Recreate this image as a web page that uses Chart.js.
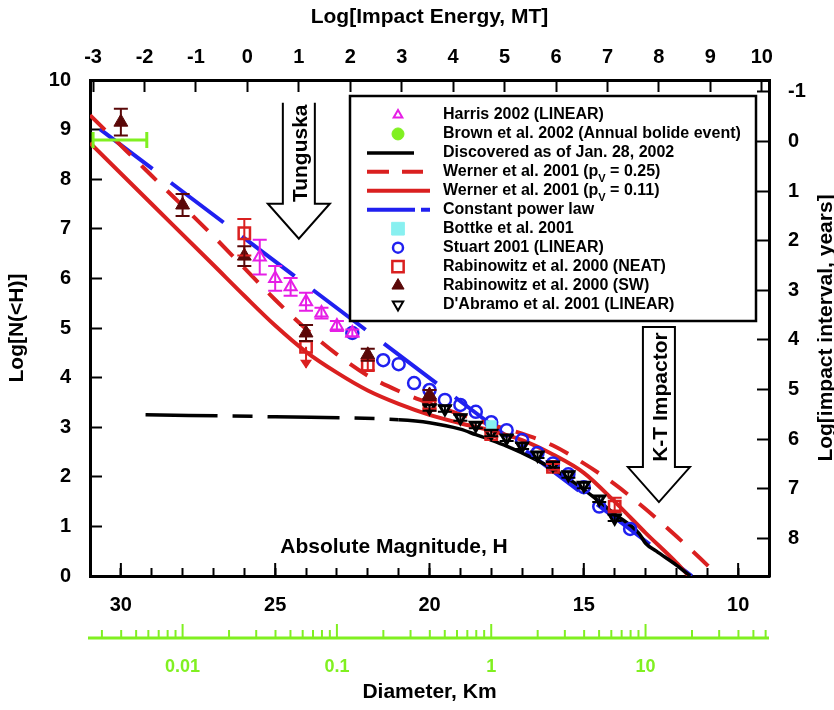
<!DOCTYPE html>
<html>
<head>
<meta charset="utf-8">
<script src="https://cdn.jsdelivr.net/npm/chart.js@4.4.1/dist/chart.umd.min.js"></script>
<style>
  html, body { margin: 0; padding: 0; background: #fff; }
  #wrap { width: 834px; height: 710px; position: relative; }
</style>
</head>
<body>
<div id="wrap"><canvas id="c"></canvas></div>
<script>
// x = absolute magnitude H, y = Log N(<H)
const harrisH = [25.5, 25, 24.5, 24, 23.5, 23, 22.5];
const harrisN = [6.43, 6.0, 5.83, 5.53, 5.3, 5.04, 4.9];
const harrisErr = [0.35, 0.25, 0.18, 0.18, 0.11, 0.1, 0.07];

const brownH = [30.03];
const brownN = [8.79];
const brownErrH = [0.87];

const discH = [29.2, 25, 21, 20, 19, 18.5, 18, 17.5, 17, 16, 15, 14, 13.2, 13.0, 12.65, 12, 11.55];
const discN = [3.25, 3.21, 3.15, 3.09, 2.96, 2.85, 2.74, 2.62, 2.48, 2.16, 1.74, 1.25, 0.85, 0.66, 0.5, 0.22, 0];

const werner25H = [31, 29, 27, 25, 24, 23, 22, 21, 20, 19, 18, 17, 16, 15, 14, 13, 12, 11, 10.65];
const werner25N = [9.29, 8.07, 6.85, 5.57, 4.98, 4.47, 4.04, 3.73, 3.48, 3.26, 3.05, 2.87, 2.63, 2.27, 1.85, 1.35, 0.8, 0.22, 0];

const werner11H = [31, 29, 27, 26, 25, 24, 23, 22, 21, 20, 19, 18, 17, 16, 15, 14, 13, 12, 11.6];
const werner11N = [8.73, 7.5, 6.27, 5.65, 5.05, 4.52, 4.1, 3.74, 3.47, 3.25, 3.08, 2.93, 2.74, 2.45, 2.08, 1.5, 0.87, 0.27, 0];

const powerH = [30.68, 11.5];
const powerN = [9.01, 0];

const bottkeH = [18.0];
const bottkeN = [3.03];

const stuartH = [22.5, 21.5, 21, 20.5, 20, 19.5, 19, 18.5, 18, 17.5, 17, 16.5, 16, 15.5, 15, 14.5, 13.5];
const stuartN = [4.9, 4.35, 4.27, 3.89, 3.75, 3.55, 3.45, 3.31, 3.1, 2.94, 2.74, 2.48, 2.27, 2.05, 1.79, 1.4, 0.95];

const neatH = [26, 24, 22, 20, 18, 16, 14];
const neatN = [6.91, 4.62, 4.25, 3.45, 2.86, 2.2, 1.4];
const neatErrUp = [0.29, 0, 0.1, 0.08, 0.06, 0.06, 0.18];
const neatErrDown = [0.45, 0.42, 0.1, 0.08, 0.06, 0.06, 0.08];
const neatUpperLimit = [false, true, false, false, false, false, false];

const swH = [30, 28, 26, 24, 22, 20];
const swN = [9.15, 7.48, 6.45, 4.9, 4.46, 3.65];
const swErr = [0.27, 0.22, 0.2, 0.16, 0.12, 0.1];

const dabH = [20, 19.5, 19, 18.5, 18, 17.5, 17, 16.5, 16, 15.5, 15, 14.5, 14];
const dabN = [3.39, 3.37, 3.19, 3.04, 2.88, 2.78, 2.62, 2.44, 2.24, 2.04, 1.83, 1.55, 1.17];
const dabErr = [0.06, 0.06, 0.06, 0.06, 0.06, 0.06, 0.06, 0.06, 0.06, 0.06, 0.06, 0.06, 0.06];

// axis ranges and tick labels
const hMin = 9, hMax = 31;
const nMin = 0, nMax = 10;
const energyMin = -3.06, energyMax = 10.14;   // log MT, = 15.54 - 0.6 H
const energyTicks = [-3, -2, -1, 0, 1, 2, 3, 4, 5, 6, 7, 8, 9, 10];
const intervalMin = -1.24, intervalMax = 8.76; // log years, = 8.76 - log N
const intervalTicks = [-1, 0, 1, 2, 3, 4, 5, 6, 7, 8];
const diamMin = Math.pow(10, -2.6), diamMax = Math.pow(10, 1.8); // km
const diamLabels = [0.01, 0.1, 1, 10];

const MAGENTA = '#e61ee6', GREEN = '#80f020', RED = '#da2020', BLUE = '#2020f0',
      DARK = '#5a0808', CYAN = '#88f0f0', CLEAR = 'rgba(0,0,0,0)';
const FONT = "'Liberation Sans', Arial, Helvetica, sans-serif";

Chart.defaults.font.family = FONT;
Chart.defaults.font.weight = 'bold';
Chart.defaults.color = '#000';

const pts = (hs, ns) => hs.map((h, i) => ({x: h, y: ns[i]}));

const datasets = [
  { label: 'Harris 2002 (LINEAR)', data: pts(harrisH, harrisN), order: 1,
    pointStyle: 'triangle', pointRadius: 7, borderWidth: 2, borderColor: MAGENTA, backgroundColor: CLEAR,
    errUp: harrisErr, errDown: harrisErr, legendRadius: 5 },
  { label: 'Brown et al. 2002 (Annual bolide event)', data: pts(brownH, brownN), order: 1,
    pointStyle: 'circle', pointRadius: 0, borderWidth: 0, borderColor: GREEN, backgroundColor: GREEN,
    errH: brownErrH, legendRadius: 6 },
  { label: 'Discovered as of Jan. 28, 2002', data: pts(discH, discN), order: 3, showLine: true,
    pointRadius: 0, borderWidth: 3.5, borderColor: '#000', backgroundColor: '#000',
    cubicInterpolationMode: 'monotone',
    segment: { borderDash: c => c.p0.parsed.x > 21 ? [72, 15, 20, 15] : undefined },
    legendLen: 47 },
  { label: 'Werner et al. 2001 (pV = 0.25)', data: pts(werner25H, werner25N), order: 3, showLine: true,
    pointRadius: 0, borderWidth: 4, borderColor: RED, borderDash: [21, 15],
    cubicInterpolationMode: 'monotone', legendLen: 56, legendDash: [22, 13] },
  { label: 'Werner et al. 2001 (pV = 0.11)', data: pts(werner11H, werner11N), order: 3, showLine: true,
    pointRadius: 0, borderWidth: 4, borderColor: RED,
    cubicInterpolationMode: 'monotone', legendLen: 63 },
  { label: 'Constant power law', data: pts(powerH, powerN), order: 3, showLine: true,
    pointRadius: 0, borderWidth: 4, borderColor: BLUE, borderDash: [66, 23],
    legendLen: 63, legendDash: [48, 6, 10, 50] },
  { label: 'Bottke et al. 2001', data: pts(bottkeH, bottkeN), order: 1,
    pointStyle: 'rect', pointRadius: 7, borderWidth: 1, borderColor: CYAN, backgroundColor: CYAN,
    legendRadius: 9 },
  { label: 'Stuart 2001 (LINEAR)', data: pts(stuartH, stuartN), order: 1,
    pointStyle: 'circle', pointRadius: 6, borderWidth: 2.5, borderColor: BLUE, backgroundColor: CLEAR,
    legendRadius: 5 },
  { label: 'Rabinowitz et al. 2000 (NEAT)', data: pts(neatH, neatN), order: 1,
    pointStyle: 'rect', pointRadius: 8, borderWidth: 2.5, borderColor: RED, backgroundColor: CLEAR,
    errUp: neatErrUp, errDown: neatErrDown, limit: neatUpperLimit, legendRadius: 8 },
  { label: 'Rabinowitz et al. 2000 (SW)', data: pts(swH, swN), order: 0,
    pointStyle: 'triangle', pointRadius: 8, borderWidth: 1, borderColor: DARK, backgroundColor: DARK,
    errUp: swErr, errDown: swErr, legendRadius: 7 },
  { label: "D'Abramo et al. 2001 (LINEAR)", data: pts(dabH, dabN), order: 0,
    pointStyle: 'triangle', rotation: 180, pointRadius: 6, borderWidth: 3, borderColor: '#000', backgroundColor: CLEAR,
    errUp: dabErr, errDown: dabErr, legendRadius: 6, legendBorder: 2 }
];

// vertical / horizontal error bars and the upper-limit arrow
const errorBars = {
  id: 'errorBars',
  afterDatasetsDraw(chart) {
    const {ctx, scales: {x, y}} = chart;
    chart.data.datasets.forEach(ds => {
      if (!ds.errUp && !ds.errH) return;
      ctx.save();
      ctx.strokeStyle = ds.borderColor;
      ctx.fillStyle = ds.borderColor;
      ctx.lineWidth = 2;
      ds.data.forEach((p, i) => {
        const px = x.getPixelForValue(p.x), py = y.getPixelForValue(p.y);
        if (ds.errUp) {
          const top = y.getPixelForValue(p.y + ds.errUp[i]);
          const bot = y.getPixelForValue(p.y - ds.errDown[i]);
          ctx.beginPath();
          ctx.moveTo(px, top); ctx.lineTo(px, bot);
          if (ds.errUp[i] > 0) { ctx.moveTo(px - 7, top); ctx.lineTo(px + 7, top); }
          if (!(ds.limit && ds.limit[i])) { ctx.moveTo(px - 7, bot); ctx.lineTo(px + 7, bot); }
          ctx.stroke();
          if (ds.limit && ds.limit[i]) {
            ctx.beginPath();
            ctx.moveTo(px - 6, bot - 8); ctx.lineTo(px + 6, bot - 8); ctx.lineTo(px, bot + 1);
            ctx.closePath(); ctx.fill();
          }
        }
        if (ds.errH) {
          const l = x.getPixelForValue(p.x + ds.errH[i]);
          const r = x.getPixelForValue(p.x - ds.errH[i]);
          ctx.lineWidth = 3;
          ctx.beginPath();
          ctx.moveTo(l, py); ctx.lineTo(r, py);
          ctx.moveTo(l, py - 8); ctx.lineTo(l, py + 8);
          ctx.moveTo(r, py - 8); ctx.lineTo(r, py + 8);
          ctx.stroke();
        }
      });
      ctx.restore();
    });
  }
};

function drawArrow(ctx, tx, yTop, yTip, label, closeTop) {
  const sw = 16, hw = 31, hl = 35, hb = yTip - hl;
  ctx.beginPath();
  ctx.moveTo(tx - sw, yTop); ctx.lineTo(tx - sw, hb); ctx.lineTo(tx - hw, hb);
  ctx.lineTo(tx, yTip); ctx.lineTo(tx + hw, hb); ctx.lineTo(tx + sw, hb); ctx.lineTo(tx + sw, yTop);
  if (closeTop) ctx.closePath();
  ctx.fillStyle = '#fff'; ctx.fill();
  ctx.lineWidth = 2; ctx.strokeStyle = '#000'; ctx.stroke();
  ctx.save();
  ctx.translate(tx + 1, (yTop + hb) / 2);
  ctx.rotate(-Math.PI / 2);
  ctx.fillStyle = '#000';
  ctx.font = 'bold 21px ' + FONT;
  ctx.textAlign = 'center'; ctx.textBaseline = 'middle';
  ctx.fillText(label, 0, 1);
  ctx.restore();
}

// arrows for Tunguska / K-T, the in-plot H label
const annotations = {
  id: 'annotations',
  beforeDatasetsDraw(chart) {
    const {ctx, scales: {xe, y, x}} = chart;
    ctx.save();
    drawArrow(ctx, xe.getPixelForValue(1), y.getPixelForValue(9.54), y.getPixelForValue(6.8), 'Tunguska', false);
    drawArrow(ctx, xe.getPixelForValue(8), y.getPixelForValue(5.02), y.getPixelForValue(1.49), 'K-T Impactor', true);
    ctx.fillStyle = '#000';
    ctx.font = 'bold 21px ' + FONT;
    ctx.textAlign = 'center'; ctx.textBaseline = 'middle';
    ctx.fillText('Absolute Magnitude, H', x.getPixelForValue(21.15), y.getPixelForValue(0.58));
    ctx.restore();
  }
};

// boxed legend inside the plot
const boxLegend = {
  id: 'boxLegend',
  afterDatasetsDraw(chart) {
    const {ctx, chartArea} = chart;
    const bx = chartArea.left + 260, by = chartArea.top + 16, bw = 406, bh = 225;
    ctx.save();
    ctx.fillStyle = '#fff'; ctx.fillRect(bx, by, bw, bh);
    ctx.lineWidth = 2.5; ctx.strokeStyle = '#000'; ctx.strokeRect(bx, by, bw, bh);
    chart.data.datasets.forEach((ds, i) => {
      const cy = by + 19 + i * 18.95;
      const mx = bx + 48, lx = bx + 17, tx = bx + 93;
      if (ds.showLine) {
        ctx.save();
        ctx.strokeStyle = ds.borderColor; ctx.lineWidth = ds.borderWidth;
        ctx.setLineDash(ds.legendDash || []);
        ctx.beginPath(); ctx.moveTo(lx, cy); ctx.lineTo(lx + ds.legendLen, cy); ctx.stroke();
        ctx.restore();
      } else {
        ctx.fillStyle = ds.backgroundColor; ctx.strokeStyle = ds.borderColor;
        const bwid = ds.legendBorder || (ds.borderWidth || 1);
        ctx.lineWidth = bwid;
        Chart.helpers.drawPoint(ctx, {pointStyle: ds.pointStyle, rotation: ds.rotation || 0,
          radius: ds.legendRadius, borderWidth: bwid}, mx, cy);
      }
      ctx.fillStyle = '#000';
      ctx.font = 'bold 16px ' + FONT;
      ctx.textAlign = 'left'; ctx.textBaseline = 'middle';
      const k = ds.label.indexOf('(pV');
      if (k < 0) {
        ctx.fillText(ds.label, tx, cy);
      } else {
        const a = ds.label.slice(0, k + 2), b = ds.label.slice(k + 3);
        ctx.fillText(a, tx, cy);
        const wa = ctx.measureText(a).width;
        ctx.font = 'bold 11px ' + FONT;
        ctx.fillText('V', tx + wa, cy + 7);
        const wv = ctx.measureText('V').width;
        ctx.font = 'bold 16px ' + FONT;
        ctx.fillText(b, tx + wa + wv, cy);
      }
    });
    ctx.restore();
  }
};

// green diameter axis ticks, long H ticks, right-hand title
const extraAxes = {
  id: 'extraAxes',
  afterDraw(chart) {
    const {ctx} = chart;
    const s = chart.scales.xd, hx = chart.scales.x;
    const yLine = s.top + 18;
    ctx.save();
    ctx.strokeStyle = GREEN; ctx.lineWidth = 3;
    ctx.beginPath(); ctx.moveTo(s.left - 2, yLine); ctx.lineTo(s.right, yLine); ctx.stroke();
    ctx.lineWidth = 2;
    for (let e = -3; e <= 1; e++) {
      for (let m = 1; m <= 9; m++) {
        const v = m * Math.pow(10, e);
        if (v < s.min || v > s.max) continue;
        const px = s.getPixelForValue(v);
        ctx.beginPath(); ctx.moveTo(px, yLine); ctx.lineTo(px, yLine - (m === 1 ? 14 : 8)); ctx.stroke();
      }
    }
    ctx.strokeStyle = '#000'; ctx.lineWidth = 2;
    [10, 15, 20, 25, 30].forEach(v => {
      const px = hx.getPixelForValue(v);
      ctx.beginPath(); ctx.moveTo(px, hx.top); ctx.lineTo(px, hx.top - 13); ctx.stroke();
    });
    const r = chart.scales.y2;
    ctx.translate(r.right - 8, (chart.chartArea.top + chart.chartArea.bottom) / 2);
    ctx.rotate(-Math.PI / 2);
    ctx.fillStyle = '#000';
    ctx.font = 'bold 21px ' + FONT;
    ctx.textAlign = 'center'; ctx.textBaseline = 'middle';
    ctx.fillText('Log[impact interval, years]', 0, 0);
    ctx.restore();
  }
};

const useTicks = list => s => { s.ticks = list.map(v => ({value: v})); };
const tickFont = {size: 20, weight: 'bold'};
const titleFont = {size: 21, weight: 'bold'};
const inwardGrid = len => ({ drawOnChartArea: false, tickLength: -len, tickWidth: 2, tickColor: '#000' });
const frame = { color: '#000', width: 3 };

new Chart(document.getElementById('c'), {
  type: 'scatter',
  data: { datasets },
  options: {
    responsive: true,
    maintainAspectRatio: false,
    animation: false,
    layout: { padding: 0 },
    plugins: { legend: { display: false }, tooltip: { enabled: false } },
    scales: {
      x: {
        type: 'linear', position: 'bottom', weight: 0, reverse: true, min: hMin, max: hMax,
        ticks: { stepSize: 1, autoSkip: false, maxRotation: 0, padding: 25, font: tickFont, color: '#000',
                 callback: v => (v % 5 === 0 ? String(v) : '') },
        grid: inwardGrid(8), border: frame,
        afterFit: s => { s.height = 44; }
      },
      xd: {
        type: 'logarithmic', position: 'bottom', weight: 1, min: diamMin, max: diamMax,
        afterBuildTicks: useTicks(diamLabels),
        ticks: { autoSkip: false, maxRotation: 0, padding: 36, font: {size: 18, weight: 'bold'}, color: GREEN,
                 callback: v => String(v) },
        grid: { display: false, drawTicks: false }, border: { display: false },
        title: { display: true, text: 'Diameter, Km', font: titleFont, color: '#000', padding: { top: 0, bottom: 5 } },
        afterFit: s => { s.height = 90; }
      },
      xe: {
        type: 'linear', position: 'top', min: energyMin, max: energyMax,
        afterBuildTicks: useTicks(energyTicks),
        ticks: { autoSkip: false, maxRotation: 0, padding: 23, font: tickFont, color: '#000',
                 callback: v => String(v) },
        grid: inwardGrid(12), border: frame,
        title: { display: true, text: 'Log[Impact Energy, MT]', font: titleFont, color: '#000', padding: { top: 5, bottom: 0 } },
        afterFit: s => { s.height = 80; }
      },
      y: {
        type: 'linear', position: 'left', min: nMin, max: nMax,
        ticks: { stepSize: 1, autoSkip: false, padding: 31, font: tickFont, color: '#000' },
        grid: inwardGrid(12), border: frame,
        title: { display: true, text: 'Log[N(<H)]', font: titleFont, color: '#000', padding: { top: 5, bottom: 0 } },
        afterFit: s => { s.width = 90; }
      },
      y2: {
        type: 'linear', position: 'right', reverse: true, min: intervalMin, max: intervalMax,
        afterBuildTicks: useTicks(intervalTicks),
        ticks: { autoSkip: false, padding: 31, font: tickFont, color: '#000', callback: v => String(v) },
        grid: inwardGrid(12), border: frame,
        afterFit: s => { s.width = 65; }
      }
    }
  },
  plugins: [annotations, errorBars, boxLegend, extraAxes]
});
</script>
</body>
</html>
